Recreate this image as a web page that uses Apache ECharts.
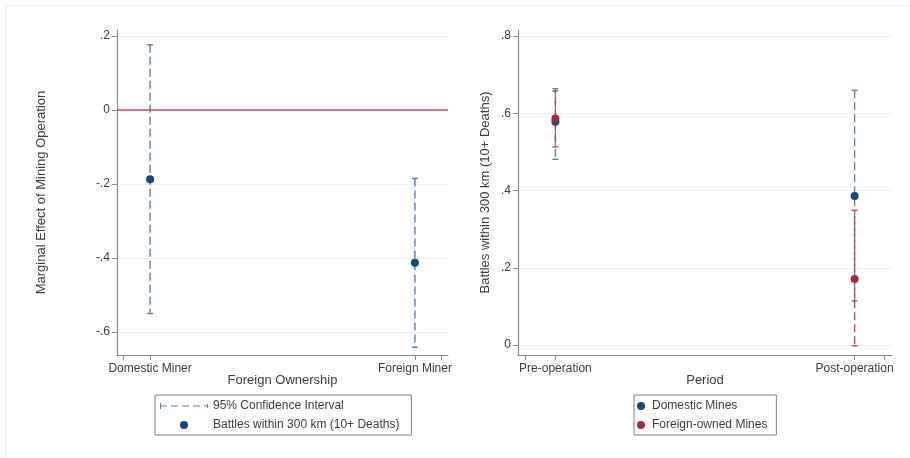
<!DOCTYPE html>
<html>
<head>
<meta charset="utf-8">
<script src="https://cdn.jsdelivr.net/npm/echarts@6/dist/echarts.min.js"></script>
<style>html,body{margin:0;padding:0;background:#fff}#c{width:910px;height:458px}</style>
</head>
<body>
<div id="c"></div>
<script>
// ---- Left panel data ----
const leftCats = ['Domestic Miner', 'Foreign Miner'];
const leftX = [0, 1];
const leftEst = [-0.187, -0.413];
const leftLo = [-0.550, -0.641];
const leftHi = [0.176, -0.185];
const leftYTicks = [-0.6, -0.4, -0.2, 0, 0.2];
const leftYLabels = ['-.6', '-.4', '-.2', '0', '.2'];

// ---- Right panel data ----
const rightCats = ['Pre-operation', 'Post-operation'];
const rightX = [0, 1];
const domEst = [0.578, 0.386];
const domLo = [0.481, 0.114];
const domHi = [0.664, 0.660];
const forEst = [0.587, 0.171];
const forLo = [0.513, -0.002];
const forHi = [0.658, 0.349];
const rightYTicks = [0, 0.2, 0.4, 0.6, 0.8];
const rightYLabels = ['0', '.2', '.4', '.6', '.8'];

const xTicks = [-0.1, 0, 1, 1.1];

const FONT = 'Liberation Sans, Arial, sans-serif';
const NAVY = '#1a476f';
const MAROON = '#9a2f43';
const CI_BLUE = '#5e80a6';
const CI_RED = '#b24a5c';
const AXIS = '#8a8a8a';
const TXT = '#3c3c3c';

function labelFor(ticks, labels) {
  return function (v) {
    for (let i = 0; i < ticks.length; i++) if (Math.abs(ticks[i] - v) < 1e-6) return labels[i];
    return '';
  };
}

function ciItem(color, dashOffset) {
  return function (params, api) {
    const x = api.value(0), lo = api.value(1), hi = api.value(2);
    const pHi = api.coord([x, hi]);
    const pLo = api.coord([x, lo]);
    const c = 3;
    const st = { stroke: color, lineWidth: 1.4 };
    return {
      type: 'group',
      children: [
        { type: 'line', shape: { x1: pHi[0], y1: pHi[1], x2: pLo[0], y2: pLo[1] },
          style: Object.assign({ lineDash: [8, 4], lineDashOffset: dashOffset }, st) },
        { type: 'line', shape: { x1: pHi[0] - c, y1: pHi[1], x2: pHi[0] + c, y2: pHi[1] }, style: st },
        { type: 'line', shape: { x1: pLo[0] - c, y1: pLo[1], x2: pLo[0] + c, y2: pLo[1] }, style: st }
      ]
    };
  };
}

function xAxisCfg(gi, cats, name, nameGap) {
  return {
    type: 'value', gridIndex: gi, min: -0.125, max: 1.125,
    name: name, nameLocation: 'middle', nameGap: nameGap, nameMoveOverlap: false,
    nameTextStyle: { fontFamily: FONT, fontSize: 13, color: TXT },
    axisLine: { show: true, onZero: false, lineStyle: { color: AXIS, width: 1.2 } },
    axisTick: { show: true, customValues: xTicks, length: 5, lineStyle: { color: AXIS } },
    axisLabel: { customValues: [0, 1], margin: 8, fontFamily: FONT, fontSize: 12, color: TXT,
      formatter: function (v) { return cats[Math.round(v)]; } },
    splitLine: { show: false }
  };
}

function yAxisCfg(gi, min, max, ticks, labels, name, nameGap) {
  return {
    type: 'value', gridIndex: gi, min: min, max: max,
    name: name, nameLocation: 'middle', nameGap: nameGap, nameMoveOverlap: false,
    nameTextStyle: { fontFamily: FONT, fontSize: 13, color: TXT },
    axisLine: { show: true, onZero: false, lineStyle: { color: AXIS, width: 1.2 } },
    axisTick: { show: true, customValues: ticks, length: 5, lineStyle: { color: AXIS } },
    axisLabel: { customValues: ticks, margin: 7, fontFamily: FONT, fontSize: 12, color: TXT,
      formatter: labelFor(ticks, labels) },
    splitLine: { show: true, lineStyle: { color: '#f0f0f0', width: 1 } }
  };
}

const ciIcon = 'path://M0,1h1v6h-1z M0,3.5h7v1h-7z M11,3.5h7v1h-7z M22,3.5h7v1h-7z M33,3.5h7v1h-7z M44,3.5h4v1h-4z M47,2h1v4h-1z';

const option = {
  backgroundColor: '#ffffff',
  animation: false,
  textStyle: { fontFamily: FONT },
  graphic: [{ type: 'rect', shape: { x: 6, y: 6, width: 920, height: 470 },
    style: { fill: null, stroke: '#ececec', lineWidth: 1 }, silent: true }],
  grid: [
    { left: 117, top: 30, width: 331, height: 325 },
    { left: 518, top: 30, width: 374, height: 325 }
  ],
  xAxis: [
    xAxisCfg(0, leftCats, 'Foreign Ownership', 19),
    xAxisCfg(1, rightCats, 'Period', 19)
  ],
  yAxis: [
    yAxisCfg(0, -0.662, 0.216, leftYTicks, leftYLabels, 'Marginal Effect of Mining Operation', 69),
    yAxisCfg(1, -0.026, 0.816, rightYTicks, rightYLabels, 'Battles within 300 km (10+ Deaths)', 26)
  ],
  legend: [
    {
      left: 155, top: 395, orient: 'vertical', itemWidth: 48, itemHeight: 8, itemGap: 7,
      padding: [5, 12, 4, 5], borderColor: '#808080', borderWidth: 1, borderRadius: 0,
      textStyle: { fontFamily: FONT, fontSize: 12, color: TXT },
      data: [
        { name: '95% Confidence Interval', icon: ciIcon, itemStyle: { color: CI_BLUE } },
        { name: 'Battles within 300 km (10+ Deaths)', icon: 'circle', itemStyle: { color: NAVY } }
      ]
    },
    {
      left: 634, top: 395, orient: 'vertical', itemWidth: 12, itemHeight: 8, itemGap: 7,
      padding: [5, 9, 4, 3], borderColor: '#808080', borderWidth: 1, borderRadius: 0,
      textStyle: { fontFamily: FONT, fontSize: 12, color: TXT },
      data: [
        { name: 'Domestic Mines', icon: 'circle' },
        { name: 'Foreign-owned Mines', icon: 'circle' }
      ]
    }
  ],
  series: [
    {
      name: '95% Confidence Interval', type: 'custom', xAxisIndex: 0, yAxisIndex: 0,
      renderItem: ciItem(CI_BLUE, 0), itemStyle: { color: CI_BLUE },
      encode: { x: 0, y: [1, 2] },
      data: leftX.map((x, i) => [x, leftLo[i], leftHi[i]]), z: 3
    },
    {
      name: 'Battles within 300 km (10+ Deaths)', type: 'scatter', xAxisIndex: 0, yAxisIndex: 0,
      symbol: 'circle', symbolSize: 8, itemStyle: { color: NAVY, opacity: 1 },
      data: leftX.map((x, i) => [x, leftEst[i]]), z: 5,
      markLine: {
        silent: true, symbol: 'none', label: { show: false },
        lineStyle: { color: '#d8405e', width: 1.5, type: 'solid' },
        data: [{ yAxis: 0 }]
      }
    },
    {
      name: 'Domestic CI', type: 'custom', xAxisIndex: 1, yAxisIndex: 1,
      renderItem: ciItem(CI_BLUE, 0), encode: { x: 0, y: [1, 2] },
      data: rightX.map((x, i) => [x, domLo[i], domHi[i]]), z: 3
    },
    {
      name: 'Foreign CI', type: 'custom', xAxisIndex: 1, yAxisIndex: 1,
      renderItem: ciItem(CI_RED, 6), encode: { x: 0, y: [1, 2] },
      data: rightX.map((x, i) => [x, forLo[i], forHi[i]]), z: 4
    },
    {
      name: 'Domestic Mines', type: 'scatter', xAxisIndex: 1, yAxisIndex: 1,
      symbol: 'circle', symbolSize: 8, itemStyle: { color: NAVY, opacity: 1 },
      data: rightX.map((x, i) => [x, domEst[i]]), z: 5
    },
    {
      name: 'Foreign-owned Mines', type: 'scatter', xAxisIndex: 1, yAxisIndex: 1,
      symbol: 'circle', symbolSize: 8, itemStyle: { color: MAROON, opacity: 1 },
      data: rightX.map((x, i) => [x, forEst[i]]), z: 6
    }
  ]
};

const chart = echarts.init(document.getElementById('c'), null, { renderer: 'canvas' });
chart.setOption(option);
</script>
</body>
</html>
